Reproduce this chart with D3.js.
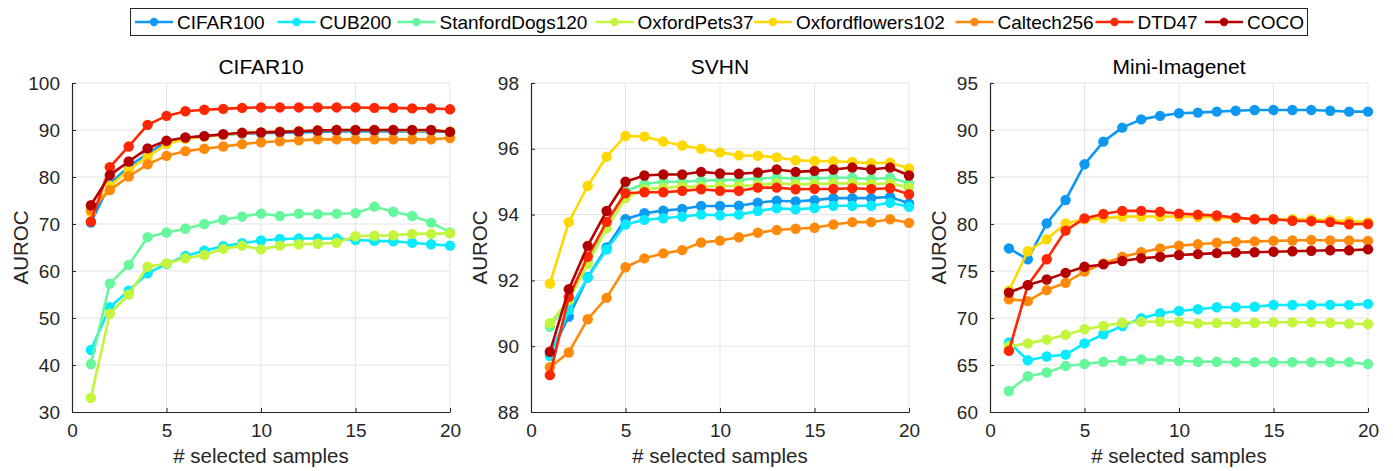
<!DOCTYPE html>
<html><head><meta charset="utf-8">
<script src="https://cdn.jsdelivr.net/npm/d3@7"></script>
<style>body{margin:0;background:#fff;} svg{display:block;font-family:"Liberation Sans",Arial,Helvetica,sans-serif;}</style>
</head><body>
<svg id="chart" width="1393" height="471"></svg>
<script>
const samples = [1,2,3,4,5,6,7,8,9,10,11,12,13,14,15,16,17,18,19,20];
const seriesNames = ["CIFAR100","CUB200","StanfordDogs120","OxfordPets37","Oxfordflowers102","Caltech256","DTD47","COCO"];
const seriesColors = ["#0d99f2","#08eaff","#66f79c","#c2f53c","#ffd800","#ff8a0a","#ff2600","#b40000"];
const xTicks = [0,5,10,15,20];

const panelTitles = ["CIFAR10","SVHN","Mini-Imagenet"];
const yDomains = [[30,100],[88,98],[60,95]];
const yTicks = [[30,40,50,60,70,80,90,100],[88,90,92,94,96,98],[60,65,70,75,80,85,90,95]];

const cifar10 = [
  [70.3,78.5,82.2,85.0,87.4,88.3,88.7,89.0,89.2,89.3,89.4,89.5,89.6,89.7,89.7,89.7,89.7,89.7,89.7,89.6],
  [43.2,52.3,55.8,59.5,61.5,63.2,64.3,65.3,65.9,66.5,66.8,66.9,66.9,66.9,66.6,66.4,66.3,66.0,65.7,65.4],
  [40.2,57.3,61.3,67.2,68.2,69.0,70.0,70.9,71.6,72.2,71.7,72.2,72.1,72.2,72.3,73.7,72.6,71.7,70.3,68.2],
  [33.0,50.9,55.0,60.9,61.6,62.7,63.4,64.7,65.4,64.6,65.4,65.7,65.8,66.0,67.4,67.5,67.6,67.9,67.9,68.0],
  [72.5,78.1,81.5,84.3,87.0,88.1,88.6,89.0,89.3,89.5,89.7,89.8,89.9,90.0,90.0,90.0,90.0,89.9,89.9,89.7],
  [73.0,77.2,80.1,82.7,84.5,85.5,86.0,86.5,87.0,87.4,87.6,87.8,88.0,88.0,88.0,88.0,88.0,88.0,88.0,88.3],
  [70.5,82.1,86.5,91.1,93.0,94.0,94.3,94.5,94.7,94.8,94.8,94.8,94.8,94.8,94.8,94.7,94.7,94.6,94.6,94.4],
  [74.0,80.4,83.3,86.1,87.7,88.4,88.7,89.1,89.4,89.5,89.6,89.7,89.9,90.0,90.0,90.0,90.0,90.0,90.0,89.6]
];
const svhn = [
  [89.76,90.9,92.1,93.0,93.86,94.04,94.12,94.17,94.26,94.26,94.27,94.36,94.42,94.4,94.44,94.5,94.5,94.5,94.54,94.34],
  [89.7,91.1,92.08,92.94,93.7,93.84,93.89,93.94,94.0,93.98,94.0,94.11,94.19,94.16,94.2,94.27,94.27,94.27,94.36,94.24],
  [90.59,91.4,92.6,93.7,94.72,94.93,95.0,95.0,95.03,95.05,95.05,95.1,95.12,95.1,95.1,95.12,95.12,95.08,95.12,94.95],
  [90.7,91.4,92.5,93.58,94.5,94.77,94.82,94.85,94.85,94.87,94.87,94.9,94.95,94.92,94.93,94.95,94.95,94.93,94.95,94.82],
  [91.9,93.77,94.87,95.76,96.39,96.37,96.22,96.1,96.0,95.89,95.8,95.79,95.74,95.65,95.63,95.62,95.6,95.56,95.58,95.4],
  [89.36,89.81,90.82,91.47,92.4,92.67,92.82,92.92,93.15,93.21,93.31,93.45,93.53,93.57,93.6,93.7,93.77,93.77,93.86,93.75],
  [89.12,91.5,92.72,93.78,94.65,94.68,94.68,94.72,94.77,94.72,94.72,94.82,94.82,94.77,94.78,94.78,94.8,94.78,94.8,94.62],
  [89.83,91.73,93.05,94.11,95.0,95.19,95.22,95.22,95.3,95.25,95.24,95.28,95.37,95.3,95.33,95.37,95.43,95.37,95.43,95.19]
];
const miniImagenet = [
  [77.4,76.25,80.07,82.55,86.35,88.76,90.25,91.13,91.5,91.78,91.85,91.95,92.05,92.13,92.13,92.13,92.13,92.05,91.95,91.95],
  [67.4,65.5,65.9,66.1,67.3,68.27,69.15,69.97,70.5,70.75,70.93,71.14,71.15,71.2,71.38,71.38,71.4,71.4,71.4,71.5],
  [62.23,63.8,64.2,64.9,65.1,65.35,65.45,65.6,65.55,65.45,65.35,65.35,65.3,65.3,65.3,65.3,65.3,65.3,65.3,65.1],
  [67.0,67.3,67.7,68.2,68.8,69.15,69.5,69.6,69.6,69.6,69.43,69.45,69.45,69.5,69.55,69.55,69.55,69.5,69.4,69.36],
  [72.9,77.1,78.37,80.07,80.5,80.6,80.78,80.8,80.8,80.78,80.75,80.7,80.6,80.55,80.5,80.5,80.5,80.4,80.3,80.2],
  [72.0,71.8,72.97,73.75,74.93,75.8,76.5,77.0,77.4,77.7,77.84,78.0,78.1,78.15,78.2,78.25,78.3,78.25,78.25,78.2],
  [66.5,73.5,76.25,79.3,80.6,81.06,81.4,81.4,81.3,81.1,81.0,80.9,80.68,80.5,80.5,80.35,80.3,80.2,79.97,80.0],
  [72.7,73.5,74.1,74.8,75.45,75.7,76.06,76.35,76.5,76.7,76.8,76.9,76.95,77.0,77.05,77.1,77.15,77.2,77.2,77.3]
];
const panelData = [cifar10, svhn, miniImagenet];

const svg = d3.select("#chart");
const axisColor = "#262626", gridColor = "#e3e3e3";
const panelLeft = [72, 531, 990], panelW = 378, plotTop = 83, plotBottom = 412;

panelData.forEach((data, p) => {
  const x = d3.scaleLinear().domain([0,20]).range([panelLeft[p], panelLeft[p]+panelW]);
  const y = d3.scaleLinear().domain(yDomains[p]).range([plotBottom, plotTop]);
  const g = svg.append("g");
  g.selectAll(".gx").data(xTicks.slice(1)).join("line")
    .attr("x1", d=>x(d)).attr("x2", d=>x(d)).attr("y1", plotTop).attr("y2", plotBottom)
    .attr("stroke", gridColor).attr("stroke-width", 1);
  g.selectAll(".gy").data(yTicks[p].slice(1)).join("line")
    .attr("x1", x(0)).attr("x2", x(20)).attr("y1", d=>y(d)).attr("y2", d=>y(d))
    .attr("stroke", gridColor).attr("stroke-width", 1);
  const xa = g.append("g").attr("transform", `translate(0,${plotBottom})`)
    .call(d3.axisBottom(x).tickValues(xTicks).tickSizeInner(-4).tickSizeOuter(0).tickPadding(12));
  const ya = g.append("g").attr("transform", `translate(${panelLeft[p]},0)`)
    .call(d3.axisLeft(y).tickValues(yTicks[p]).tickSizeInner(-4).tickSizeOuter(0).tickPadding(12));
  [xa, ya].forEach(a => {
    a.select(".domain").attr("stroke", axisColor).attr("stroke-width", 1.2);
    a.selectAll(".tick line").attr("stroke", axisColor);
    a.selectAll("text").attr("fill", axisColor).style("font-size", "19px").style("font-family", '"Liberation Sans",Arial,sans-serif');
  });
  const line = d3.line().x((d,i)=>x(samples[i])).y(d=>y(d));
  data.forEach((vals, s) => {
    g.append("path").datum(vals).attr("d", line).attr("fill","none")
      .attr("stroke", seriesColors[s]).attr("stroke-width", 2.6).attr("stroke-linejoin","round");
    g.selectAll(null).data(vals).join("circle")
      .attr("cx", (d,i)=>x(samples[i])).attr("cy", d=>y(d)).attr("r", 5.2)
      .attr("fill", seriesColors[s]);
  });
  g.append("text").attr("x", panelLeft[p]+panelW/2).attr("y", 74).attr("text-anchor","middle")
    .style("font-size","21px").attr("fill","#000").text(panelTitles[p]);
  g.append("text").attr("x", panelLeft[p]+panelW/2).attr("y", 463).attr("text-anchor","middle")
    .style("font-size","20.5px").attr("fill",axisColor).text("# selected samples");
  g.append("text").attr("transform", `translate(${panelLeft[p]-44},${(plotTop+plotBottom)/2}) rotate(-90)`)
    .attr("text-anchor","middle").style("font-size","20.5px").attr("fill",axisColor).text("AUROC");
});

const leg = svg.append("g");
leg.append("rect").attr("x",130.5).attr("y",8.5).attr("width",1177).attr("height",27)
  .attr("fill","#fff").attr("stroke",axisColor).attr("stroke-width",1);
const legStarts = [135, 277.5, 397.5, 595.5, 754, 955.5, 1095.5, 1205];
seriesNames.forEach((n, i) => {
  const x0 = legStarts[i], cy = 22;
  leg.append("line").attr("x1",x0).attr("x2",x0+38).attr("y1",cy).attr("y2",cy)
    .attr("stroke",seriesColors[i]).attr("stroke-width",2.6);
  leg.append("circle").attr("cx",x0+19).attr("cy",cy).attr("r",4.2).attr("fill",seriesColors[i]);
  leg.append("text").attr("x",x0+42).attr("y",cy+7).style("font-size","19px").attr("fill","#000").text(n);
});
</script>
</body></html>
